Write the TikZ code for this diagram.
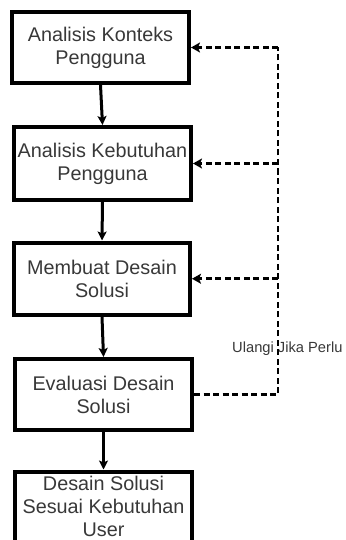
\documentclass[tikz,border=0pt]{standalone}
\usepackage{fontspec}
\setmainfont{Liberation Sans}
\usetikzlibrary{arrows.meta}
\definecolor{txt}{rgb}{0.22,0.22,0.22}
\begin{document}
\begin{tikzpicture}[x=1pt,y=-1pt,
  box/.style={draw=black,line width=4pt,rectangle,inner sep=0pt,align=center,
    text=txt,font=\fontsize{19.8}{23}\selectfont},
  flow/.style={line width=3pt,-{Stealth[length=9pt,width=9pt,inset=2pt]}},
  back/.style={line width=2.6pt,dash pattern=on 6pt off 3.5pt},
  backarrow/.style={back,-{Stealth[length=9pt,width=10pt,inset=2pt]}},
  lbl/.style={text=txt,font=\fontsize{14.7}{17}\selectfont,inner sep=0pt}]
\useasboundingbox (0,0) rectangle (345,540);
\node[box,minimum width=177pt,minimum height=71pt] (b1) at (100.5,47.5) {Analisis Konteks\\Pengguna};
\node[box,minimum width=177pt,minimum height=73pt] (b2) at (102.5,163.5) {Analisis Kebutuhan\\Pengguna};
\node[box,minimum width=176pt,minimum height=72.5pt] (b3) at (102,278.75) {Membuat Desain\\Solusi};
\node[box,minimum width=177pt,minimum height=71pt] (b4) at (103.5,394.5) {Evaluasi Desain\\Solusi};
\node[box,minimum width=177pt,minimum height=70pt] (b5) at (103.5,506.5) {Desain Solusi\\Sesuai Kebutuhan\\User};
\draw[flow] (b1.south) -- (b2.north);
\draw[flow] (b2.south) -- (b3.north);
\draw[flow] (b3.south) -- (b4.north);
\draw[flow] (b4.south) -- (b5.north);
\coordinate (c4) at (278,394.5);
\coordinate (c1) at (278,47.5);
\coordinate (c2) at (278,163.5);
\coordinate (c3) at (278,278.75);
\node[lbl,anchor=west] (lab) at (232,349) {Ulangi Jika Perlu};
\draw[back] (b4.east) -- (c4) -- (c1);
\draw[backarrow] (c1) -- (b1.east);
\draw[backarrow] (c2) -- (b2.east);
\draw[backarrow] (c3) -- (b3.east);
\end{tikzpicture}
\end{document}
